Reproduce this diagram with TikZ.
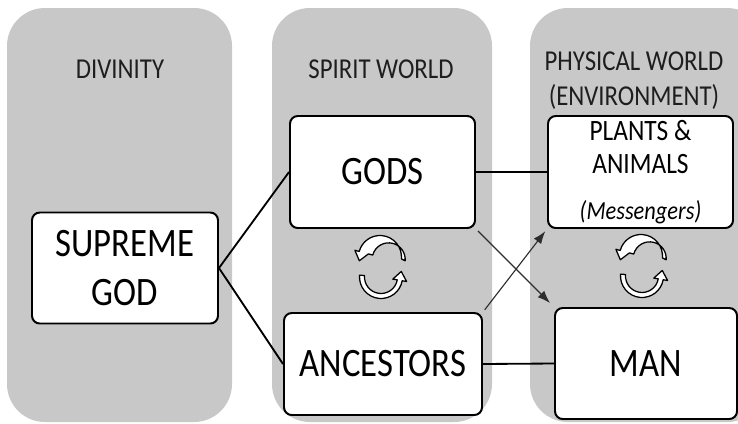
\documentclass[tikz,border=0pt]{standalone}
\usepackage{fontspec}
\setmainfont{Carlito}[FakeStretch=0.86]
\usetikzlibrary{positioning,arrows.meta}

\definecolor{panelgray}{RGB}{200,200,200}
\definecolor{headtext}{RGB}{30,30,30}
\definecolor{crossline}{RGB}{45,45,45}
\newcommand{\px}{0.025cm}

\tikzset{
  panel/.style={fill=panelgray, rounded corners=27pt},
  head/.style={font=\fontsize{20.5}{25}\selectfont, text=headtext, align=center, inner sep=0pt},
  entity/.style={draw, line width=1.4pt, fill=white, rounded corners=5.5pt, align=center,
    inner sep=0pt, font=\fontsize{28.7}{34.4}\selectfont},
  link/.style={line width=1.3pt},
  crossarrow/.style={line width=0.8pt, draw=crossline, -{Latex[length=9pt,width=6.5pt]}},
  turnband/.style={fill=white, line width=0.9pt, line join=round},
  pics/turnpair/.style={code={
    % upper half, tip on the left
    \filldraw[turnband] (-0.5,-10) ++(5:21.5) arc[start angle=5, end angle=-165, radius=21.5]
      -- ++(-165:4.5) -- (-21.18,-6.23) -- (-12.1,-13.1) -- ++(-165:-4.5)
      arc[start angle=-165, end angle=5, radius=16.5] -- cycle;
    % lower half, tip on the right
    \filldraw[turnband] (0.5,10) ++(185:21.5) arc[start angle=185, end angle=10, radius=21.5]
      -- ++(10:4.5) -- (20.77,4.44) -- (12.32,12.08) -- ++(10:4.5)
      arc[start angle=10, end angle=185, radius=16.5] -- cycle;
  }}
}

\begin{document}
\begin{tikzpicture}[x=\px, y=-\px]

\useasboundingbox (0,0) rectangle (738,423);
\clip (0,0) rectangle (738,423);

%% panels
\fill[panel] (7,8) rectangle (232,422);
\fill[panel] (272,8) rectangle (492,422);
\fill[panel] (530,8) rectangle (765,422);

\node[head] (divinity) at (120,69) {DIVINITY};
\node[head] (spirit) at (381,69) {SPIRIT WORLD};
\node[head] (physical) at (634,81) {PHYSICAL WORLD\\(ENVIRONMENT)};

%% boxes
\node[entity, minimum width=186*\px, minimum height=111*\px] (sgod) at (125,268) {SUPREME\\GOD};
\node[entity, minimum width=185*\px, minimum height=112*\px] (gods) at (382.5,172) {GODS};
\node[entity, minimum width=198*\px, minimum height=102*\px] (anc) at (383,364) {ANCESTORS};
\node[entity, minimum width=185*\px, minimum height=112*\px, font=\fontsize{21}{23.5}\selectfont] (plants) at (640.5,172)
  {PLANTS \&\\ANIMALS\\[9pt]{\fontsize{18.5}{20}\selectfont\itshape (Messengers)}};
\node[entity, minimum width=182*\px, minimum height=111*\px] (man) at (646,363.5) {MAN};

%% links
\draw[link] (sgod.east) -- (gods.west);
\draw[link] (sgod.east) -- (anc.west);
\draw[link] (gods.east) -- (plants.west);
\draw[link] (anc.east) -- (man.west);

\draw[crossarrow, shorten <=2pt, shorten >=4pt] (gods.south east) -- (man.north west);
\draw[crossarrow, shorten <=2pt, shorten >=2pt] (anc.north east) -- (plants.south west);

% cycles
\pic at (380.5,267) {turnpair};
\pic at (641.5,266) {turnpair};

\end{tikzpicture}
\end{document}
